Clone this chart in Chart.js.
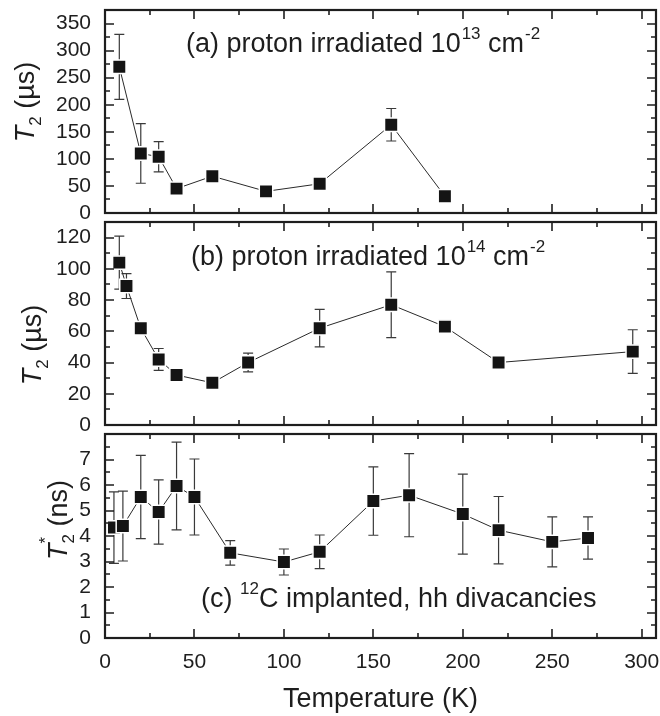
<!DOCTYPE html>
<html>
<head>
<meta charset="utf-8">
<script src="https://cdn.jsdelivr.net/npm/chart.js@4.4.1/dist/chart.umd.min.js"></script>
<style>
  body { margin: 0; background: #fff; }
  #wrap { position: relative; width: 660px; height: 716px; }
  canvas { position: absolute; left: 0; }
</style>
</head>
<body>
<div id="wrap">
  <canvas id="chartA" width="660" height="234" style="top:0"></canvas>
  <canvas id="chartB" width="660" height="234" style="top:212px"></canvas>
  <canvas id="chartC" width="660" height="292" style="top:424px"></canvas>
</div>
<script>
// temperature axis
const xTicks = [0, 50, 100, 150, 200, 250, 300];

// (a) proton irradiated 1e13
const aTemp = [8, 20, 30, 40, 60, 90, 120, 160, 190];
const aT2 = [270, 110, 104, 45, 68, 40, 54, 163, 31];
const aErr = [60, 55, 28, 0, 10, 0, 0, 30, 0];
const aYTicks = [0, 50, 100, 150, 200, 250, 300, 350];

// (b) proton irradiated 1e14
const bTemp = [8, 12, 20, 30, 40, 60, 80, 120, 160, 190, 220, 295];
const bT2 = [104, 89, 62, 42, 32, 27, 40, 62, 77, 63, 40, 47];
const bErr = [17, 8, 4, 7, 0, 0, 6, 12, 21, 3, 0, 14];
const bYTicks = [0, 20, 40, 60, 80, 100, 120];

// (c) 12C implanted, hh divacancies
const cTemp = [5, 10, 20, 30, 40, 50, 70, 100, 120, 150, 170, 200, 220, 250, 270];
const cT2 = [4.33, 4.39, 5.53, 4.94, 5.96, 5.53, 3.34, 2.98, 3.38, 5.37, 5.6, 4.86, 4.23, 3.77, 3.92];
const cErr = [1.4, 1.37, 1.63, 1.26, 1.72, 1.49, 0.48, 0.51, 0.66, 1.34, 1.63, 1.57, 1.32, 0.98, 0.83];
const cYTicks = [0, 1, 2, 3, 4, 5, 6, 7];

const FONT = '"Liberation Sans", Arial, sans-serif';
const INK = '#1e1e1e';

// inward ticks on all four sides + box frame
const framePlugin = {
  id: 'frame',
  afterDraw(chart, args, opts) {
    const { ctx, chartArea: a, scales } = chart;
    const x = scales.x, y = scales.y;
    ctx.save();
    ctx.strokeStyle = INK;
    ctx.lineWidth = 1.6;
    const xs = opts.xStep, ys = opts.yStep;
    for (let v = x.min; v <= x.max + 1e-9; v += xs / 2) {
      const major = Math.abs(v / xs - Math.round(v / xs)) < 1e-6;
      const len = major ? 9 : 5;
      const px = Math.round(x.getPixelForValue(v));
      ctx.beginPath();
      ctx.moveTo(px, a.bottom); ctx.lineTo(px, a.bottom - len);
      ctx.moveTo(px, a.top); ctx.lineTo(px, a.top + len);
      ctx.stroke();
    }
    for (let v = y.min; v <= y.max + 1e-9; v += ys / 2) {
      const major = Math.abs(v / ys - Math.round(v / ys)) < 1e-6;
      const len = major ? 9 : 5;
      const py = Math.round(y.getPixelForValue(v));
      ctx.beginPath();
      ctx.moveTo(a.left, py); ctx.lineTo(a.left + len, py);
      ctx.moveTo(a.right, py); ctx.lineTo(a.right - len, py);
      ctx.stroke();
    }
    ctx.lineWidth = 2.2;
    ctx.strokeRect(a.left, a.top, a.right - a.left, a.bottom - a.top);
    ctx.restore();
  }
};

// vertical error bars with caps
const errorBarPlugin = {
  id: 'errbars',
  beforeDatasetsDraw(chart, args, opts) {
    const { ctx, scales: { x, y } } = chart;
    const err = opts.err;
    ctx.save();
    ctx.strokeStyle = '#3a3a3a';
    ctx.lineWidth = 1.2;
    chart.data.datasets[0].data.forEach((p, i) => {
      if (!err[i]) return;
      const px = x.getPixelForValue(p.x);
      const hi = y.getPixelForValue(p.y + err[i]);
      const lo = y.getPixelForValue(p.y - err[i]);
      ctx.beginPath();
      ctx.moveTo(px, hi); ctx.lineTo(px, lo);
      ctx.moveTo(px - 5, hi); ctx.lineTo(px + 5, hi);
      ctx.moveTo(px - 5, lo); ctx.lineTo(px + 5, lo);
      ctx.stroke();
    });
    ctx.restore();
  }
};

// draw a run of text parts: {t, size, dy, italic, gap}
function drawParts(ctx, parts, x, y) {
  let cx = x;
  parts.forEach(p => {
    cx += p.gap || 0;
    if (p.stack) {
      // superscript and subscript stacked at the same position
      let w = 0;
      p.stack.forEach(s => {
        ctx.font = s.size + 'px ' + FONT;
        ctx.fillText(s.t, cx, y + s.dy);
        w = Math.max(w, ctx.measureText(s.t).width);
      });
      cx += w;
      return;
    }
    ctx.font = (p.italic ? 'italic ' : '') + p.size + 'px ' + FONT;
    ctx.fillText(p.t, cx, y + (p.dy || 0));
    cx += ctx.measureText(p.t).width;
  });
  return cx - x;
}

function measureParts(ctx, parts) {
  ctx.save();
  const w = drawParts({ fillText() {}, measureText: t => ctx.measureText(t), set font(f) { ctx.font = f; } }, parts, 0, 0);
  ctx.restore();
  return w;
}

const labelPlugin = {
  id: 'labels',
  afterDraw(chart, args, opts) {
    const ctx = chart.ctx;
    ctx.save();
    ctx.fillStyle = INK;
    ctx.textBaseline = 'alphabetic';
    ctx.textAlign = 'left';
    drawParts(ctx, opts.note.parts, opts.note.x, opts.note.y);
    // rotated y title
    const t = opts.ytitle;
    const w = measureParts(ctx, t.parts);
    ctx.translate(t.x, t.y);
    ctx.rotate(-Math.PI / 2);
    drawParts(ctx, t.parts, -w / 2, 0);
    ctx.restore();
  }
};

function noPad(s) {
  s.paddingTop = 0; s.paddingBottom = 0; s.paddingLeft = 0; s.paddingRight = 0;
}

function makePanel(id, temps, vals, err, yMax, yTicks, yStep, note, ytitle, showX) {
  new Chart(document.getElementById(id), {
    type: 'line',
    data: {
      datasets: [{
        data: temps.map((t, i) => ({ x: t, y: vals[i] })),
        borderColor: '#2a2a2a',
        borderWidth: 1,
        tension: 0,
        pointStyle: 'rect',
        pointRadius: 9.5,
        pointBackgroundColor: '#141414',
        pointBorderColor: '#fff',
        pointBorderWidth: 1.5,
        clip: false
      }]
    },
    options: {
      responsive: false,
      animation: false,
      events: [],
      layout: { autoPadding: false, padding: { top: 10, right: 4, left: 0, bottom: showX ? 0 : 21 } },
      plugins: {
        legend: { display: false },
        tooltip: { enabled: false },
        frame: { xStep: 50, yStep: yStep },
        errbars: { err: err },
        labels: { note: note, ytitle: ytitle }
      },
      scales: {
        x: {
          type: 'linear',
          min: 0, max: 308,
          display: showX,
          afterBuildTicks: s => { s.ticks = xTicks.map(v => ({ value: v })); },
          afterFit: s => { noPad(s); if (showX) s.height = 78; },
          grid: { display: false, drawTicks: false },
          border: { display: false },
          ticks: { padding: 12, autoSkip: false, color: INK, maxRotation: 0, font: { family: FONT, size: 21 } },
          title: {
            display: showX,
            text: 'Temperature (K)',
            color: INK,
            padding: { top: 0, bottom: 0 },
            font: { family: FONT, size: 27, lineHeight: 1.2 }
          }
        },
        y: {
          type: 'linear',
          min: 0, max: yMax,
          afterBuildTicks: s => { s.ticks = yTicks.map(v => ({ value: v })); },
          afterFit: s => { noPad(s); s.width = 105; },
          grid: { display: false, drawTicks: false },
          border: { display: false },
          ticks: { padding: 14, autoSkip: false, color: INK, font: { family: FONT, size: 21 } }
        }
      }
    },
    plugins: [errorBarPlugin, framePlugin, labelPlugin]
  });
}

const noteSize = 27, supSize = 17;

makePanel('chartA', aTemp, aT2, aErr, 375, aYTicks, 50,
  { x: 186, y: 52, parts: [
    { t: '(a) proton irradiated 10', size: noteSize },
    { t: '13', size: supSize, dy: -13, gap: 1 },
    { t: ' cm', size: noteSize },
    { t: '-2', size: supSize, dy: -13, gap: 1 }] },
  { x: 34, y: 102, parts: [
    { t: 'T', size: 27, italic: true },
    { t: '2', size: 17, dy: 7 },
    { t: ' (\u00b5s)', size: 27 }] },
  false);

makePanel('chartB', bTemp, bT2, bErr, 130, bYTicks, 20,
  { x: 191, y: 53, parts: [
    { t: '(b) proton irradiated 10', size: noteSize },
    { t: '14', size: supSize, dy: -13, gap: 1 },
    { t: ' cm', size: noteSize },
    { t: '-2', size: supSize, dy: -13, gap: 1 }] },
  { x: 41, y: 133, parts: [
    { t: 'T', size: 27, italic: true },
    { t: '2', size: 17, dy: 7 },
    { t: ' (\u00b5s)', size: 27 }] },
  false);

makePanel('chartC', cTemp, cT2, cErr, 8, cYTicks, 1,
  { x: 201, y: 183, parts: [
    { t: '(c) ', size: noteSize },
    { t: '12', size: supSize, dy: -13 },
    { t: 'C implanted, hh divacancies', size: noteSize }] },
  { x: 67, y: 96, parts: [
    { t: 'T', size: 27, italic: true },
    { stack: [{ t: '*', size: 17, dy: -16 }, { t: '2', size: 17, dy: 7 }] },
    { t: ' (ns)', size: 27 }] },
  true);
</script>
</body>
</html>
